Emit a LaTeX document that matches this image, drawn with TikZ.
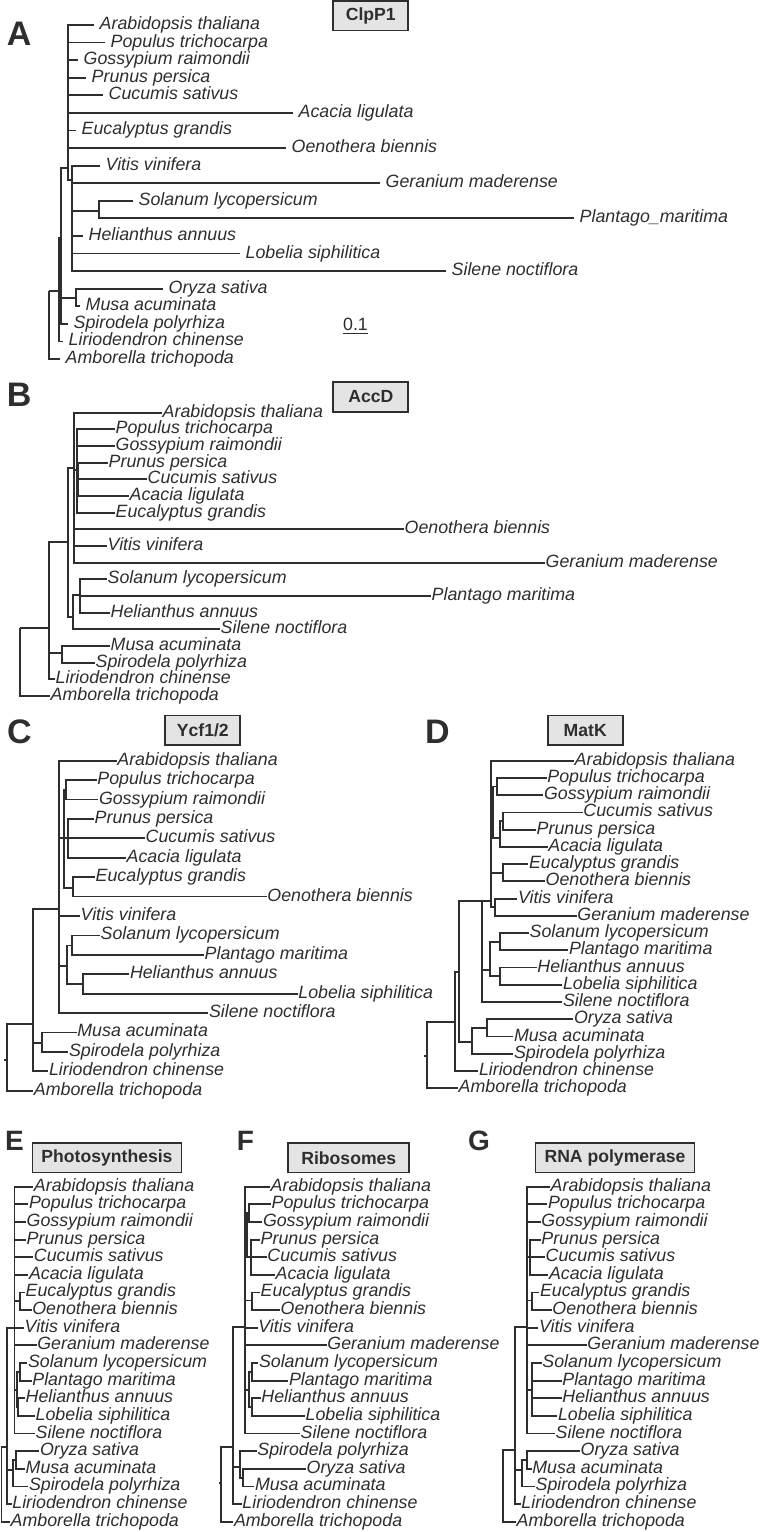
\documentclass[tikz,border=0pt]{standalone}
\usepackage{fontspec}
\setmainfont{Liberation Sans}
\usepackage{tikz}
\usetikzlibrary{positioning}
\definecolor{ink}{HTML}{2E2E2E}
\definecolor{boxfill}{HTML}{E4E4E4}

\begin{document}
\begin{tikzpicture}[
    x=1pt, y=-1pt,
    branch/.style={draw=ink, line width=1.8pt, line join=miter},
    taxon/.style={anchor=west, text=ink, inner ysep=0pt, inner xsep=0.5pt,
        text height=12.8pt, text depth=3.8pt,
        font=\itshape\fontsize{17.8}{20}\selectfont},
    genebox/.style={draw=ink, fill=boxfill, line width=1.8pt, text=ink,
        minimum width=75pt, minimum height=29.5pt, inner xsep=9pt,
        font=\bfseries\fontsize{17.6}{20}\selectfont},
    panel/.style={anchor=base west, inner sep=0pt, text=ink,
        font=\bfseries\fontsize{34}{34}\selectfont},
    smallpanel/.style={panel, font=\bfseries\fontsize{28}{28}\selectfont},
  ]
  \fill[white] (0,0) rectangle (761,1532);
  \useasboundingbox (0,0) rectangle (761,1532);

  % A: ClpP1
  \node[panel] (labelA) at (6.7,45) {A};
  \node[genebox] (geneA) at (370.8,15.8) {ClpP1};
  \foreach \id/\ex/\r/\txt in {
      ath/94/1/Arabidopsis thaliana, ptr/105/2/Populus trichocarpa,
      gra/78/3/Gossypium raimondii, ppe/86/4/Prunus persica,
      csa/103/5/Cucumis sativus, ali/293/6/Acacia ligulata,
      egr/76/7/Eucalyptus grandis, obi/286/8/Oenothera biennis,
      vvi/100/9/Vitis vinifera, gma/380/10/Geranium maderense,
      sly/133/11/Solanum lycopersicum, pma/574/12/Plantago\_maritima,
      han/83/13/Helianthus annuus, lsi/240/14/Lobelia siphilitica,
      sno/446/15/Silene noctiflora, osa/163/16/Oryza sativa,
      mac/80/17/Musa acuminata, spo/68/18/Spirodela polyrhiza,
      lch/63/19/Liriodendron chinense, atr/60/20/Amborella trichopoda}
    \node[taxon, inner xsep=5.5pt] (a-\id) at (\ex,{25+17.58*(\r-1)}) {\txt};
  \foreach \id/\x/\y in {root/49/290.7, n1/58.7/290.7, n2/61/238.3,
      mono/76/297.7, eu/68.3/168.3, eu2/71.7/180, sp/99/210.7}
    \coordinate (a-\id) at (\x,\y);
  \foreach \p/\c in {root/n1, root/atr, n1/n2, n1/lch, n2/eu, n2/mono, n2/spo,
      mono/osa, mono/mac, eu/ath, eu/ptr, eu/gra, eu/ppe, eu/csa, eu/ali,
      eu/egr, eu/obi, eu/eu2, eu2/vvi, eu2/gma, eu2/sp, eu2/han, eu2/lsi,
      eu2/sno, sp/sly, sp/pma}
    \draw[branch] (a-\p) |- (a-\c);
  \node[anchor=base, text=ink, inner xsep=0pt, inner ysep=3.3pt, text depth=0pt,
    font=\fontsize{17.8}{20}\selectfont] (scaleA) at (355.5,330) {0.1};
  \draw[branch] (scaleA.south west) -- (scaleA.south east);

  % B: AccD
  \node[panel] (labelB) at (6.7,406.7) {B};
  \node[genebox] (geneB) at (370.8,397) {AccD};
  \foreach \id/\ex/\r/\txt in {
      ath/162/1/Arabidopsis thaliana, ptr/115/2/Populus trichocarpa,
      gra/115/3/Gossypium raimondii, ppe/108/4/Prunus persica,
      csa/147/5/Cucumis sativus, ali/129/6/Acacia ligulata,
      egr/115/7/Eucalyptus grandis, obi/404/8/Oenothera biennis,
      vvi/107/9/Vitis vinifera, gma/545/10/Geranium maderense,
      sly/107/11/Solanum lycopersicum, pma/431/12/Plantago maritima,
      han/110/13/Helianthus annuus, sno/220/14/Silene noctiflora,
      mac/110/15/Musa acuminata, spo/95/16/Spirodela polyrhiza,
      lch/55/17/Liriodendron chinense, atr/50/18/Amborella trichopoda}
    \node[taxon] (b-\id) at (\ex,{412.7+16.66*(\r-1)}) {\txt};
  \foreach \id/\x/\y in {root/20/628.3, n1/49.3/628.3, mono/61.7/653,
      eu/68.3/541.7, eua/74/468.3, ros/76.7/470, pg/77.3/437.7,
      pca/78.3/479.3, eub/73.3/616.7, sph/80/595}
    \coordinate (b-\id) at (\x,\y);
  \foreach \p/\c in {root/n1, root/atr, n1/eu, n1/mono, n1/lch, mono/mac,
      mono/spo, eu/eua, eu/eub, eua/ath, eua/ros, eua/obi, eua/vvi, eua/gma,
      ros/pg, ros/pca, ros/egr, pg/ptr, pg/gra, pca/ppe, pca/csa, pca/ali,
      eub/sph, eub/sno, sph/sly, sph/pma, sph/han}
    \draw[branch] (b-\p) |- (b-\c);

  % C: Ycf1/2
  \node[panel] (labelC) at (7,743) {C};
  \node[genebox] (geneC) at (202.8,730.3) {Ycf1/2};
  \foreach \id/\ex/\r/\txt in {
      ath/116.7/1/Arabidopsis thaliana, ptr/96.7/2/Populus trichocarpa,
      gra/98.3/3/Gossypium raimondii, ppe/94/4/Prunus persica,
      csa/145/5/Cucumis sativus, ali/126/6/Acacia ligulata,
      egr/95/7/Eucalyptus grandis, obi/266.7/8/Oenothera biennis,
      vvi/80/9/Vitis vinifera, sly/100/10/Solanum lycopersicum,
      pma/204/11/Plantago maritima, han/129.3/12/Helianthus annuus,
      lsi/297.7/13/Lobelia siphilitica, sno/208.3/14/Silene noctiflora,
      mac/76.7/15/Musa acuminata, spo/68.3/16/Spirodela polyrhiza,
      lch/48.3/17/Liriodendron chinense, atr/33.3/18/Amborella trichopoda}
    \node[taxon] (c-\id) at (\ex,{760.7+19.41*(\r-1)}) {\txt};
  \foreach \id/\x/\y in {stub/4/1060, root/7.3/1060, n1/33.3/1024,
      mono/41.7/1043, eu/59.3/909.3, ros/64/838, pg/65.7/789.6,
      pca/68.3/838, eo/72.7/887.8, ast/66.7/966, sp/71.7/945.5, hl/83.3/984.3}
    \coordinate (c-\id) at (\x,\y);
  \foreach \p/\c in {stub/root, root/n1, root/atr, n1/eu, n1/mono, n1/lch,
      mono/mac, mono/spo, eu/ath, eu/ros, eu/vvi, eu/ast, eu/sno, ros/pg,
      ros/pca, ros/eo, pg/ptr, pg/gra, pca/ppe, pca/csa, pca/ali, eo/egr,
      eo/obi, ast/sp, ast/hl, sp/sly, sp/pma, hl/han, hl/lsi}
    \draw[branch] (c-\p) |- (c-\c);

  % D: MatK
  \node[panel] (labelD) at (425,743) {D};
  \node[genebox] (geneD) at (585.2,730.3) {MatK};
  \foreach \id/\ex/\r/\txt in {
      ath/574/1/Arabidopsis thaliana, ptr/546.7/2/Populus trichocarpa,
      gra/543.3/3/Gossypium raimondii, csa/582.7/4/Cucumis sativus,
      ppe/536/5/Prunus persica, ali/547.7/6/Acacia ligulata,
      egr/528.3/7/Eucalyptus grandis, obi/545/8/Oenothera biennis,
      vvi/517.3/9/Vitis vinifera, gma/576.7/10/Geranium maderense,
      sly/529/11/Solanum lycopersicum, pma/568.3/12/Plantago maritima,
      han/536.7/13/Helianthus annuus, lsi/562.3/14/Lobelia siphilitica,
      sno/562.3/15/Silene noctiflora, osa/573.3/16/Oryza sativa,
      mac/513.3/17/Musa acuminata, spo/513.3/18/Spirodela polyrhiza,
      lch/478.3/19/Liriodendron chinense, atr/458/20/Amborella trichopoda}
    \node[taxon] (d-\id) at (\ex,{760.7+17.24*(\r-1)}) {\txt};
  \foreach \id/\x/\y in {stub/424/1055.7, root/426.7/1055.7, n1/455/1022.3,
      n2/459.3/971.7, mono/471.7/1041.7, om/486.7/1028.3, eu/481.7/900.7,
      rr/490.7/900.7, rc/493.3/812, pg/496.7/786.5, cpa/500/838,
      cp/503.3/821, eo/503.3/872.7, vg/495/907, ast/490/970, sp/500/941.7,
      hl/500/976.2}
    \coordinate (d-\id) at (\x,\y);
  \foreach \p/\c in {stub/root, root/n1, root/atr, n1/n2, n1/lch, n2/eu,
      n2/mono, mono/om, mono/spo, om/osa, om/mac, eu/rr, eu/ast, eu/sno,
      rr/ath, rr/rc, rr/eo, rr/vg, rc/pg, rc/cpa, pg/ptr, pg/gra, cpa/cp,
      cpa/ali, cp/csa, cp/ppe, eo/egr, eo/obi, vg/vvi, vg/gma, ast/sp,
      ast/hl, sp/sly, sp/pma, hl/han, hl/lsi}
    \draw[branch] (d-\p) |- (d-\c);

  % E: Photosynthesis
  \node[smallpanel] (labelE) at (5,1150) {E};
  \node[genebox] (geneE) at (107,1157.8) {Photosynthesis};
  \foreach \id/\ex/\r/\txt in {
      ath/33.3/1/Arabidopsis thaliana, ptr/28.3/2/Populus trichocarpa,
      gra/26/3/Gossypium raimondii, ppe/26/4/Prunus persica,
      csa/33.3/5/Cucumis sativus, ali/28.3/6/Acacia ligulata,
      egr/25/7/Eucalyptus grandis, obi/31.7/8/Oenothera biennis,
      vvi/24/9/Vitis vinifera, gma/36.7/10/Geranium maderense,
      sly/27.3/11/Solanum lycopersicum, pma/31.7/12/Plantago maritima,
      han/25/13/Helianthus annuus, lsi/35/14/Lobelia siphilitica,
      sno/35/15/Silene noctiflora, osa/39.3/16/Oryza sativa,
      mac/25/17/Musa acuminata, spo/28.3/18/Spirodela polyrhiza,
      lch/11.7/19/Liriodendron chinense, atr/10/20/Amborella trichopoda}
    \node[taxon] (e-\id) at (\ex,{1186.7+17.63*(\r-1)}) {\txt};
  \foreach \id/\x/\y in {root/1.5/1480, n1/6.7/1446.7, eu/14.5/1328,
      mono/13.3/1470, om/16/1460, eo/20/1301, ast/16.7/1390, sp/20/1372,
      hl/18.3/1407}
    \coordinate (e-\id) at (\x,\y);
  \foreach \p/\c in {root/n1, root/atr, n1/eu, n1/mono, n1/lch, mono/om,
      mono/spo, om/osa, om/mac, eu/ath, eu/ptr, eu/gra, eu/ppe, eu/csa,
      eu/ali, eu/eo, eu/vvi, eu/gma, eu/ast, eu/sno, eo/egr, eo/obi, ast/sp,
      ast/hl, sp/sly, sp/pma, hl/han, hl/lsi}
    \draw[branch] (e-\p) |- (e-\c);

  % F: Ribosomes
  \node[smallpanel] (labelF) at (236.7,1150) {F};
  \node[genebox, minimum width=121pt] (geneF) at (348.8,1157.8) {Ribosomes};
  \foreach \id/\ex/\r/\txt in {
      ath/270/1/Arabidopsis thaliana, ptr/271/2/Populus trichocarpa,
      gra/262.3/3/Gossypium raimondii, ppe/260/4/Prunus persica,
      csa/266.7/5/Cucumis sativus, ali/275/6/Acacia ligulata,
      egr/260/7/Eucalyptus grandis, obi/280/8/Oenothera biennis,
      vvi/257.7/9/Vitis vinifera, gma/326.7/10/Geranium maderense,
      sly/258.3/11/Solanum lycopersicum, pma/288.3/12/Plantago maritima,
      han/260.7/13/Helianthus annuus, lsi/305/14/Lobelia siphilitica,
      sno/300/15/Silene noctiflora, spo/256.7/16/Spirodela polyrhiza,
      osa/306/17/Oryza sativa, mac/254.3/18/Musa acuminata,
      lch/241.7/19/Liriodendron chinense, atr/233.3/20/Amborella trichopoda}
    \node[taxon] (f-\id) at (\ex,{1186.7+17.63*(\r-1)}) {\txt};
  \foreach \id/\x/\y in {stub/219/1483.3, root/220.7/1483.3, n1/233.3/1446.7,
      eu/245/1326.7, mono/240/1466.7, om/243.3/1478, ros/247.3/1240,
      pg/249.3/1213, pca/250.7/1257, eo/251.7/1300.5, ast/249/1390,
      sp/251.7/1372, hl/251.7/1407}
    \coordinate (f-\id) at (\x,\y);
  \foreach \p/\c in {stub/root, root/n1, root/atr, n1/eu, n1/mono, n1/lch,
      mono/spo, mono/om, om/osa, om/mac, eu/ath, eu/ros, eu/eo, eu/vvi,
      eu/gma, eu/ast, eu/sno, ros/pg, ros/pca, pg/ptr, pg/gra, pca/ppe,
      pca/csa, pca/ali, eo/egr, eo/obi, ast/sp, ast/hl, sp/sly, sp/pma,
      hl/han, hl/lsi}
    \draw[branch] (f-\p) |- (f-\c);

  % G: RNA polymerase
  \node[smallpanel] (labelG) at (468,1150) {G};
  \node[genebox] (geneG) at (615,1157.8) {RNA polymerase};
  \foreach \id/\ex/\r/\txt in {
      ath/550/1/Arabidopsis thaliana, ptr/547.3/2/Populus trichocarpa,
      gra/540.7/3/Gossypium raimondii, ppe/540.7/4/Prunus persica,
      csa/545/5/Cucumis sativus, ali/548.3/6/Acacia ligulata,
      egr/539.3/7/Eucalyptus grandis, obi/551.7/8/Oenothera biennis,
      vvi/538.3/9/Vitis vinifera, gma/586.7/10/Geranium maderense,
      sly/541.7/11/Solanum lycopersicum, pma/561.7/12/Plantago maritima,
      han/561.7/13/Helianthus annuus, lsi/557.3/14/Lobelia siphilitica,
      sno/555/15/Silene noctiflora, osa/580/16/Oryza sativa,
      mac/531.7/17/Musa acuminata, spo/535/18/Spirodela polyrhiza,
      lch/520.7/19/Liriodendron chinense, atr/516/20/Amborella trichopoda}
    \node[taxon] (g-\id) at (\ex,{1186.7+17.63*(\r-1)}) {\txt};
  \foreach \id/\x/\y in {stub/502/1485, root/503.3/1485, n1/515/1450,
      eu/526.7/1326.7, mono/522.3/1470, om/527.3/1460, pca/530/1257,
      eo/531.7/1300.5, ast/531.7/1390}
    \coordinate (g-\id) at (\x,\y);
  \foreach \p/\c in {stub/root, root/n1, root/atr, n1/eu, n1/mono, n1/lch,
      mono/om, mono/spo, om/osa, om/mac, eu/ath, eu/ptr, eu/gra, eu/pca,
      eu/eo, eu/vvi, eu/gma, eu/ast, eu/sno, pca/ppe, pca/csa, pca/ali,
      eo/egr, eo/obi, ast/sly, ast/pma, ast/han, ast/lsi}
    \draw[branch] (g-\p) |- (g-\c);
\end{tikzpicture}
\end{document}
